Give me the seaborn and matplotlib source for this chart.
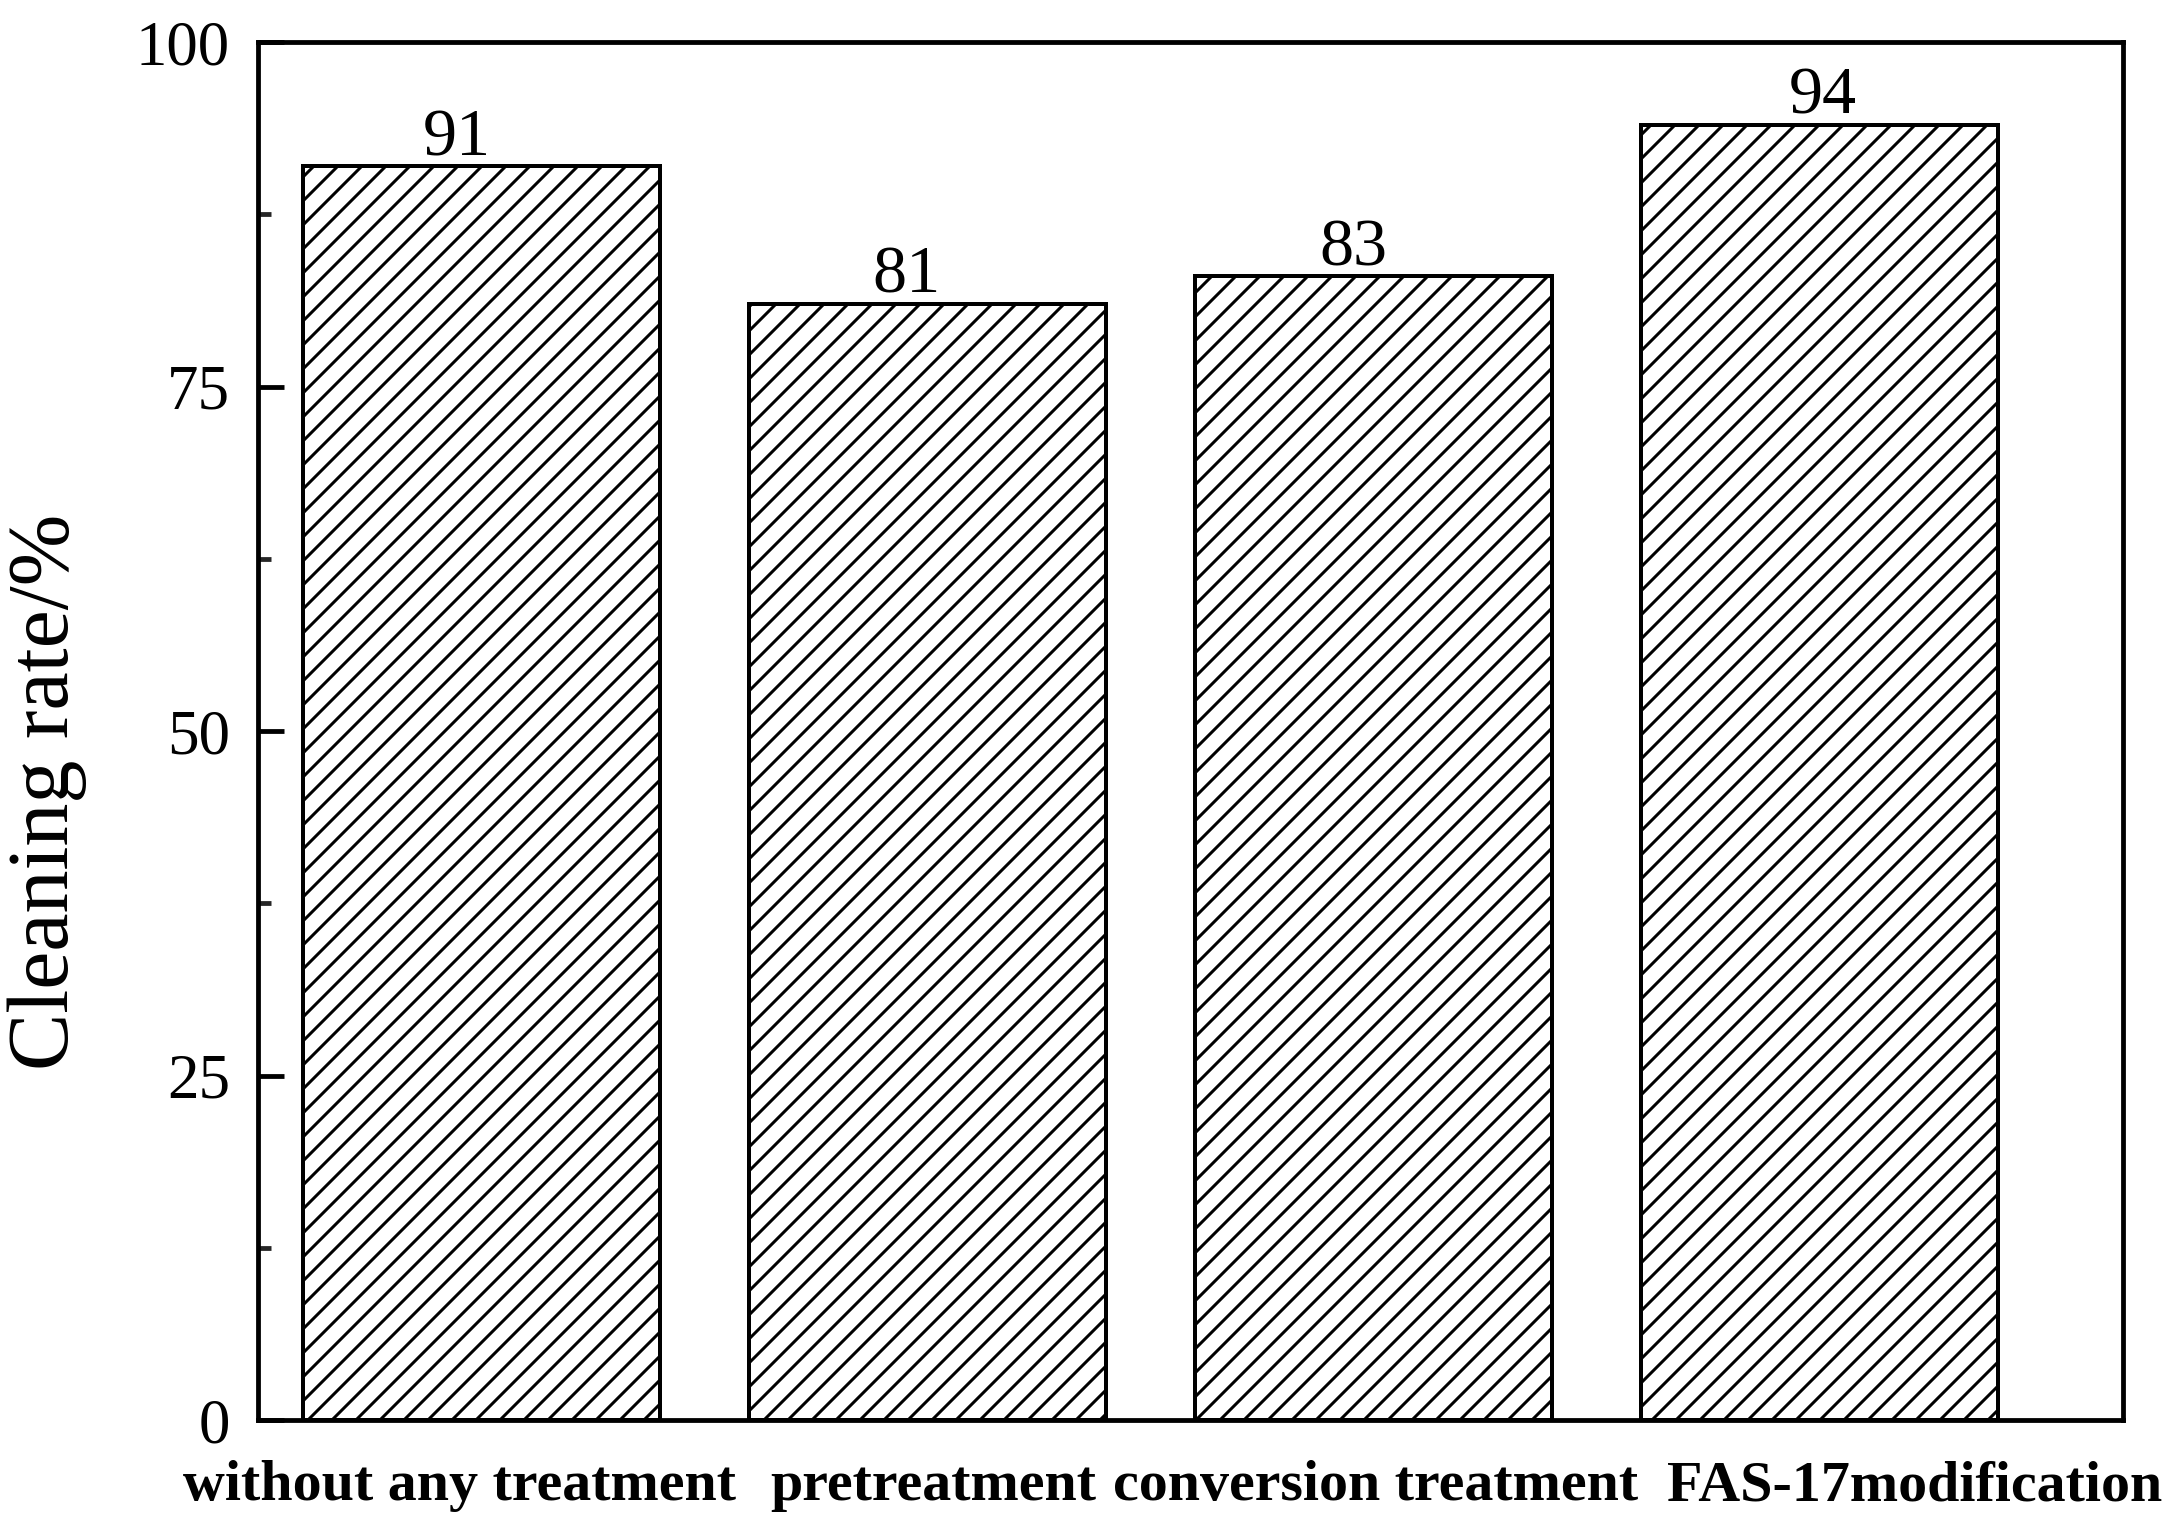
import matplotlib
matplotlib.use("Agg")
import matplotlib.pyplot as plt
import matplotlib.transforms as mtransforms
from matplotlib.ticker import MultipleLocator
import seaborn as sns
import pandas as pd

categories = ["without any treatment", "pretreatment", "conversion treatment", "FAS-17modification"]
values = [91, 81, 83, 94]
value_labels = ["91", "81", "83", "94"]
y_ticks = [0, 25, 50, 75, 100]
y_label = "Cleaning rate/%"

sns.set_theme(style="white")
plt.rcParams["font.family"] = ["Liberation Serif", "DejaVu Serif"]
plt.rcParams["hatch.linewidth"] = 1.5
plt.rcParams["hatch.color"] = "black"

DPI = 144
fig = plt.figure(figsize=(2176 / DPI, 1535 / DPI), dpi=DPI)
ax = fig.add_axes([0.1186, 0.0749, 0.9756 - 0.1186, 0.9726 - 0.0749])

df = pd.DataFrame({"category": categories, "value": values})
sns.barplot(data=df, x="category", y="value", ax=ax, color="white", saturation=1,
            edgecolor="black", linewidth=2.0, hatch="//", width=0.8, errorbar=None)

ax.set_xlim(-0.5, 3.68)
ax.set_ylim(0, 100)
ax.set_yticks(y_ticks)
ax.yaxis.set_minor_locator(MultipleLocator(12.5))
ax.set_yticklabels([str(t) for t in y_ticks])

for s in ax.spines.values():
    s.set_visible(True)
    s.set_color("black")
    s.set_linewidth(2.4)

ax.tick_params(axis="y", which="major", direction="in", length=13, width=2.4,
               labelsize=31.5, pad=14, left=True, right=False, colors="black")
ax.tick_params(axis="y", which="minor", direction="in", length=6.5, width=2.4,
               left=True, right=False)
ax.tick_params(axis="x", which="both", bottom=False, top=False, length=0,
               labelsize=29, pad=20)
for lab in ax.get_xticklabels():
    lab.set_fontweight("bold")
    lab.set_color("black")

# shift x tick labels horizontally to match reference placement
shifts_pt = [-11, 3, 1, 47.5]
for lab, dx in zip(ax.get_xticklabels(), shifts_pt):
    lab.set_transform(lab.get_transform() + mtransforms.ScaledTranslation(dx / 72, 0, fig.dpi_scale_trans))

ax.set_xlabel("")
ax.set_ylabel(y_label, fontsize=43, color="black")
ax.yaxis.set_label_coords(-0.092, 0.456)

label_dx_pt = [-12, -10.5, -10, 1.5]
for p, txt, dx in zip(ax.patches, value_labels, label_dx_pt):
    xc = p.get_x() + p.get_width() / 2
    ax.annotate(txt, (xc, p.get_height()), xytext=(dx, 5.5), textcoords="offset points",
                ha="center", va="baseline", fontsize=34, color="black")

ax.grid(False)
fig.savefig("out.png", dpi=DPI, facecolor="white")
